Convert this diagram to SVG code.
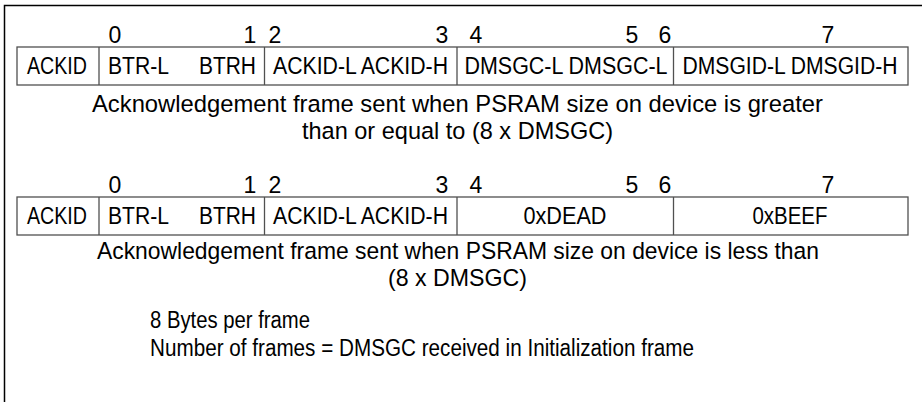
<svg xmlns="http://www.w3.org/2000/svg" width="922" height="402" viewBox="0 0 922 402">
<style>
.frame{fill:none;stroke:#000;stroke-width:1.5}
.cell{fill:#fff;stroke:#505050;stroke-width:1.3}
.div{stroke:#505050;stroke-width:1.3}
text{font-family:"Liberation Sans",Arial,sans-serif;fill:#000}
.t{font-size:23px}
.d{font-size:23px;text-anchor:middle}
.m{text-anchor:middle}
.cap{font-size:24.5px;text-anchor:middle}
.n{font-family:"Liberation Sans Narrow","Liberation Sans",Arial,sans-serif;font-size:23px}
</style>
<rect width="922" height="402" fill="#fff"/>
<g id="outer">
<path class="frame" d="M4.5,402 V5.5 H922"/>
</g>
<g id="frame1">
<g id="frame1-indices">
<text class="d" x="115" y="43">0</text>
<text class="d" x="250" y="43">1</text>
<text class="d" x="275" y="43">2</text>
<text class="d" x="442" y="43">3</text>
<text class="d" x="476" y="43">4</text>
<text class="d" x="632" y="43">5</text>
<text class="d" x="665" y="43">6</text>
<text class="d" x="828" y="43">7</text>
</g>
<rect class="cell" x="17" y="47" width="891" height="38"/>
<g id="f1-ackid"><line class="div" x1="99" y1="47" x2="99" y2="85"/><text class="t m" x="57" y="74" textLength="60" lengthAdjust="spacingAndGlyphs">ACKID</text></g>
<g id="f1-btr"><line class="div" x1="264.5" y1="47" x2="264.5" y2="85"/><text class="t" x="108" y="74" textLength="61" lengthAdjust="spacingAndGlyphs">BTR-L</text><text class="t" x="199" y="74" textLength="57" lengthAdjust="spacingAndGlyphs">BTRH</text></g>
<g id="f1-ackidlh"><line class="div" x1="457" y1="47" x2="457" y2="85"/><text class="t m" x="360.5" y="74" textLength="175" lengthAdjust="spacingAndGlyphs">ACKID-L ACKID-H</text></g>
<g id="f1-dmsgc"><line class="div" x1="673.5" y1="47" x2="673.5" y2="85"/><text class="t m" x="566" y="74" textLength="203" lengthAdjust="spacingAndGlyphs">DMSGC-L DMSGC-L</text></g>
<g id="f1-dmsgid"><text class="t m" x="790" y="74" textLength="215" lengthAdjust="spacingAndGlyphs">DMSGID-L DMSGID-H</text></g>
<text class="cap" x="457.5" y="112" textLength="731" lengthAdjust="spacingAndGlyphs">Acknowledgement frame sent when PSRAM size on device is greater</text>
<text class="cap" x="457.5" y="139" textLength="311" lengthAdjust="spacingAndGlyphs">than or equal to (8 x DMSGC)</text>
</g>
<g id="frame2">
<g id="frame2-indices">
<text class="d" x="115" y="193">0</text>
<text class="d" x="250" y="193">1</text>
<text class="d" x="275" y="193">2</text>
<text class="d" x="442" y="193">3</text>
<text class="d" x="476" y="193">4</text>
<text class="d" x="632" y="193">5</text>
<text class="d" x="665" y="193">6</text>
<text class="d" x="828" y="193">7</text>
</g>
<rect class="cell" x="17" y="197" width="891" height="38"/>
<g id="f2-ackid"><line class="div" x1="99" y1="197" x2="99" y2="235"/><text class="t m" x="57" y="224" textLength="60" lengthAdjust="spacingAndGlyphs">ACKID</text></g>
<g id="f2-btr"><line class="div" x1="264.5" y1="197" x2="264.5" y2="235"/><text class="t" x="108" y="224" textLength="61" lengthAdjust="spacingAndGlyphs">BTR-L</text><text class="t" x="199" y="224" textLength="57" lengthAdjust="spacingAndGlyphs">BTRH</text></g>
<g id="f2-ackidlh"><line class="div" x1="457" y1="197" x2="457" y2="235"/><text class="t m" x="360.5" y="224" textLength="175" lengthAdjust="spacingAndGlyphs">ACKID-L ACKID-H</text></g>
<g id="f2-dead"><line class="div" x1="673.5" y1="197" x2="673.5" y2="235"/><text class="t m" x="565" y="224" textLength="83" lengthAdjust="spacingAndGlyphs">0xDEAD</text></g>
<g id="f2-beef"><text class="t m" x="790" y="224" textLength="75" lengthAdjust="spacingAndGlyphs">0xBEEF</text></g>
<text class="cap" x="458" y="259" textLength="722" lengthAdjust="spacingAndGlyphs">Acknowledgement frame sent when PSRAM size on device is less than</text>
<text class="cap" x="457.5" y="286" textLength="139" lengthAdjust="spacingAndGlyphs">(8 x DMSGC)</text>
</g>
<g id="notes">
<text class="n" x="150" y="328" textLength="160" lengthAdjust="spacingAndGlyphs">8 Bytes per frame</text>
<text class="n" x="150" y="356" textLength="544" lengthAdjust="spacingAndGlyphs">Number of frames = DMSGC received in Initialization frame</text>
</g>
</svg>
